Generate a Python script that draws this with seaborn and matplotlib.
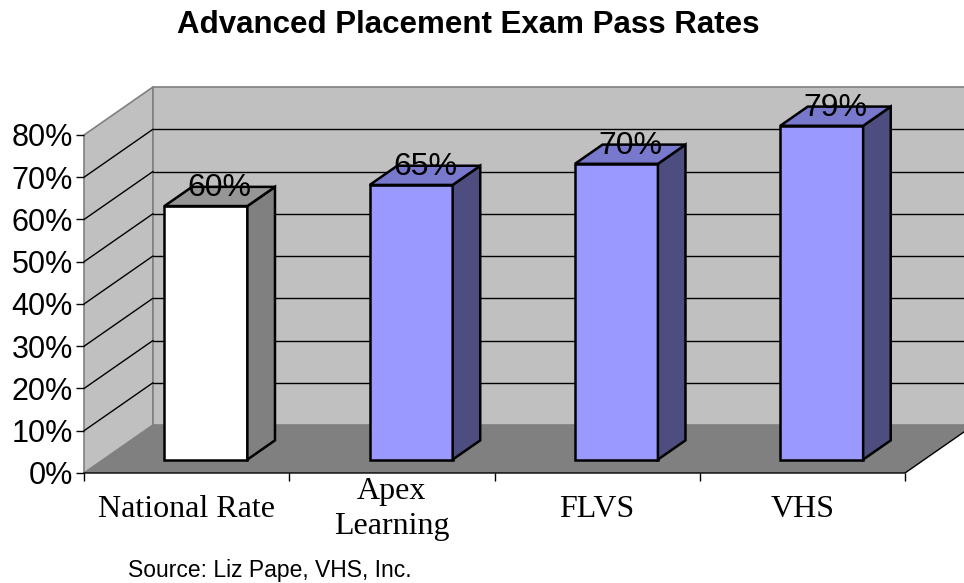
"""Advanced Placement exam pass rates - faux 3D column chart."""
import matplotlib
matplotlib.use("Agg")
import matplotlib.pyplot as plt
from matplotlib.patches import Polygon
import seaborn as sns

sns.set_theme(style="white")
plt.rcParams["font.family"] = ["Liberation Sans", "DejaVu Sans"]
plt.rcParams["text.color"] = "black"
plt.rcParams["xtick.color"] = "black"
plt.rcParams["ytick.color"] = "black"

# data
categories = ["National Rate", "Apex\nLearning", "FLVS", "VHS"]
pass_rates = [0.60, 0.65, 0.70, 0.79]
value_labels = ["60%", "65%", "70%", "79%"]
y_ticks = [0.0, 0.1, 0.2, 0.3, 0.4, 0.5, 0.6, 0.7, 0.8]
y_tick_labels = ["0%", "10%", "20%", "30%", "40%", "50%", "60%", "70%", "80%"]

# colours (front, top, side) per bar
FRONT = ["#FFFFFF", "#9999FF", "#9999FF", "#9999FF"]
TOP = ["#969696", "#7878CC", "#7878CC", "#7878CC"]
SIDE = ["#808080", "#4D4D80", "#4D4D80", "#4D4D80"]
WALL, FLOOR, EDGE = "#C0C0C0", "#808080", "#808080"

# 3D geometry in data units
YMAX = 0.8
DX, DY = 0.336, 0.1136      # full depth of the plot box
F0, F1 = 0.28, 0.68         # bar front/back as a fraction of depth
BW = 0.404

fig = plt.figure(figsize=(9.64, 5.83), dpi=100)
ax = fig.add_axes([84 / 964, 110 / 583, 821 / 964, 386 / 583])

x0, x1 = -0.5, len(categories) - 0.5
xr = x1 + DX

# walls and floor
ax.add_patch(Polygon([(x0, 0), (x0 + DX, DY), (x0 + DX, YMAX + DY), (x0, YMAX)],
                     fc=WALL, ec=EDGE, lw=1.2, clip_on=False, zorder=0))
ax.add_patch(Polygon([(x0 + DX, DY), (xr, DY), (xr, YMAX + DY), (x0 + DX, YMAX + DY)],
                     fc=WALL, ec=EDGE, lw=1.2, clip_on=False, zorder=0))
ax.add_patch(Polygon([(x0, 0), (x1, 0), (xr, DY), (x0 + DX, DY)],
                     fc=FLOOR, ec="none", clip_on=False, zorder=0.5))
ax.plot([x0, x1, xr], [0, 0, DY], color="black", lw=1, clip_on=False, zorder=0.6)

for t in y_ticks[1:-1]:
    ax.plot([x0 + DX, xr], [t + DY, t + DY], color="black", lw=1,
            clip_on=False, zorder=0.7)
    ax.plot([x0, x0 + DX], [t, t + DY], color="black", lw=1,
            clip_on=False, zorder=0.7)

# bars (front faces from seaborn, then pushed back into the box)
sns.barplot(x=categories, y=pass_rates, hue=categories, palette=FRONT,
            width=BW, saturation=1, edgecolor="black", linewidth=1.8,
            legend=False, ax=ax, zorder=2)

bd_x, bd_y = (F1 - F0) * DX, (F1 - F0) * DY
for i, p in enumerate(ax.patches[-len(categories):]):
    p.set_x(p.get_x() + F0 * DX)
    p.set_y(F0 * DY)
    bx, by, w, h = p.get_x(), p.get_y(), p.get_width(), p.get_height()
    side = [(bx + w, by), (bx + w + bd_x, by + bd_y),
            (bx + w + bd_x, by + h + bd_y), (bx + w, by + h)]
    top = [(bx, by + h), (bx + w, by + h),
           (bx + w + bd_x, by + h + bd_y), (bx + bd_x, by + h + bd_y)]
    ax.add_patch(Polygon(side, fc=SIDE[i], ec="black", lw=1.8, zorder=2))
    ax.add_patch(Polygon(top, fc=TOP[i], ec="black", lw=1.8, zorder=2))
    mid = (F0 + F1) / 2
    ax.text(i + mid * DX, pass_rates[i] + mid * DY, value_labels[i],
            ha="center", va="baseline", fontsize=23, zorder=5)

ax.set_xlim(x0, x1)
ax.set_ylim(0, YMAX + DY)
for s in ax.spines.values():
    s.set_visible(False)

ax.set_yticks(y_ticks)
ax.set_yticklabels(y_tick_labels)
ax.tick_params(axis="y", length=6, width=1, color="black", labelsize=22,
               pad=2, left=True)

ax.set_xticks([x0 + k for k in range(len(categories) + 1)])
ax.set_xticklabels([])
ax.set_xticks(range(len(categories)), minor=True)
ax.set_xticklabels(categories, minor=True, fontsize=23, va="center",
                   family=["Liberation Serif"], linespacing=1.25)
ax.tick_params(axis="x", which="major", length=6, width=1, color="black",
               bottom=True)
ax.tick_params(axis="x", which="minor", length=0, pad=26)
ax.set_xlabel("")
ax.set_ylabel("")

fig.text(468 / 964, 1 - 33 / 583, "Advanced Placement Exam Pass Rates",
         ha="center", va="baseline", fontsize=22.5, fontweight="bold")
fig.text(128 / 964, 1 - 577 / 583, "Source: Liz Pape, VHS, Inc.",
         ha="left", va="baseline", fontsize=16.5)

fig.savefig("out.png", dpi=100)
